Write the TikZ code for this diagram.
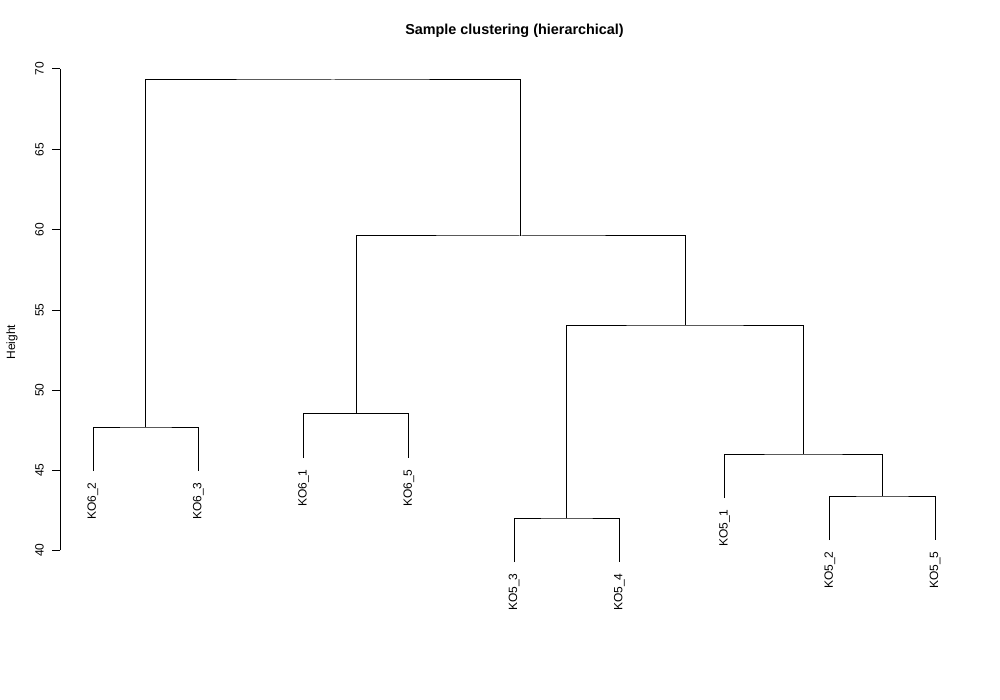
\documentclass[tikz,border=0pt]{standalone}
\usepackage{fontspec}
\setmainfont{Liberation Sans}
\begin{document}
\begin{tikzpicture}[x=1pt,y=-1pt,
  every path/.style={line width=1pt, line cap=butt},
  leaflab/.style={rotate=90, anchor=east, inner sep=0pt, font=\fontsize{12}{14}\selectfont},
  ticklab/.style={rotate=90, anchor=base, inner sep=0pt, font=\fontsize{12}{14}\selectfont},
  titlelab/.style={inner sep=0pt, font=\bfseries\fontsize{14.4}{17}\selectfont},
  link/.style={draw=black}]
\useasboundingbox (0,0) rectangle (1000,700);
\fill[white] (0,0) rectangle (1000,700);

% title and axis label
\node[titlelab] (title) at (514.5,30.5) {Sample clustering (hierarchical)};
\node[ticklab] (ylab) at (15,342) {Height};

% axis
\coordinate (ax0) at (60,550);
\coordinate (ax1) at (60,69);
\draw[link] (ax0) -- (ax1);
\foreach \v/\py in {40/550,45/470,50/390,55/310,60/229.5,65/149.4,70/69}{
  \coordinate (t\v) at (60,\py);
  \coordinate (tt\v) at (52,\py);
  \draw[link] (t\v) -- (tt\v);
  \node[ticklab] (tl\v) at (43.5,\py) {\v};
}

% leaves (bottom ends)
\coordinate (KO62) at (93,471);
\coordinate (KO63) at (198.25,471);
\coordinate (KO61) at (303.5,458);
\coordinate (KO65) at (408.75,458);
\coordinate (KO53) at (514,562);
\coordinate (KO54) at (619.25,562);
\coordinate (KO51) at (724.5,498);
\coordinate (KO52) at (829.75,540);
\coordinate (KO55) at (935,540);

% merges
\coordinate (m1) at (145.6,427);
\coordinate (m2) at (356.1,413.5);
\coordinate (m3) at (566.6,518);
\coordinate (m4) at (882.4,496);
\coordinate (m5) at (803.4,454);
\coordinate (m6) at (685,325);
\coordinate (m7) at (520.6,236);
\coordinate (root) at (333.1,80);

\draw[link] (KO62) |- (m1) -| (KO63);
\draw[link] (KO61) |- (m2) -| (KO65);
\draw[link] (KO53) |- (m3) -| (KO54);
\draw[link] (KO52) |- (m4) -| (KO55);
\draw[link] (KO51) |- (m5) -| (m4);
\draw[link] (m3) |- (m6) -| (m5);
\draw[link] (m2) |- (m7) -| (m6);
\draw[link] (m1) |- (root) -| (m7);

% leaf labels
\node[leaflab] (l62) at ([yshift=-11pt]KO62) {KO6\_2};
\node[leaflab] (l63) at ([yshift=-11pt]KO63) {KO6\_3};
\node[leaflab] (l61) at ([yshift=-11pt]KO61) {KO6\_1};
\node[leaflab] (l65) at ([yshift=-11pt]KO65) {KO6\_5};
\node[leaflab] (l53) at ([yshift=-11pt]KO53) {KO5\_3};
\node[leaflab] (l54) at ([yshift=-11pt]KO54) {KO5\_4};
\node[leaflab] (l51) at ([yshift=-11pt]KO51) {KO5\_1};
\node[leaflab] (l52) at ([yshift=-11pt]KO52) {KO5\_2};
\node[leaflab] (l55) at ([yshift=-11pt]KO55) {KO5\_5};
\end{tikzpicture}
\end{document}
